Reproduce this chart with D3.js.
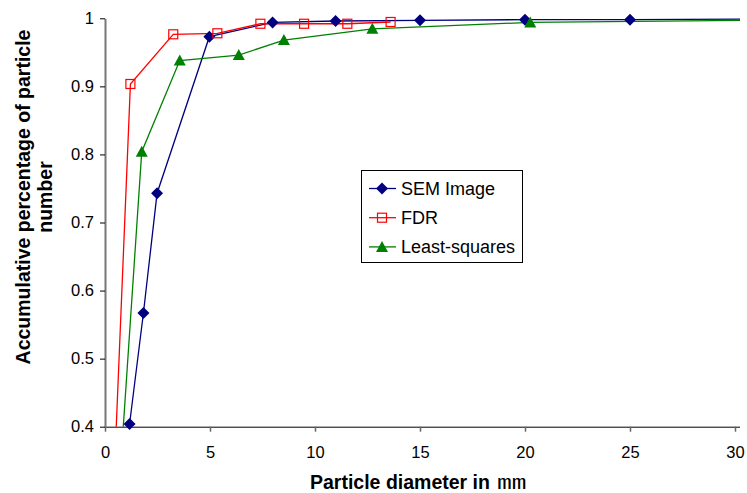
<!DOCTYPE html>
<html>
<head>
<meta charset="utf-8">
<script src="https://cdn.jsdelivr.net/npm/d3@7"></script>
<style>
  body { margin: 0; background: #fff; }
  text { font-family: "Liberation Sans", Arial, sans-serif; }
</style>
</head>
<body>
<script>
// data
var semX = [0, 1.17, 1.83, 2.48, 4.97, 7.98, 10.98, 15, 20, 25, 40];
var semY = [0, 0.404, 0.567, 0.743, 0.973, 0.994, 0.996, 0.997, 0.998, 0.998, 1.0];
var fdrX = [0, 1.21, 3.25, 5.35, 7.40, 9.48, 11.54, 13.6];
var fdrY = [0, 0.9035, 0.9765, 0.978, 0.992, 0.992, 0.992, 0.9946];
var lsqX = [0, 1.75, 3.56, 6.37, 8.52, 12.73, 20.25, 40];
var lsqY = [0, 0.804, 0.938, 0.946, 0.968, 0.9845, 0.994, 1.0];
var seriesNames = ["SEM Image", "FDR", "Least-squares"];
var xTicks = [0, 5, 10, 15, 20, 25, 30];
var yTicks = [0.4, 0.5, 0.6, 0.7, 0.8, 0.9, 1];

const width = 747;
const height = 493;
const plotLeft = 105, plotRight = 735, plotTop = 18.3, plotBottom = 426.7;

var x = d3.scaleLinear().domain([0, 30]).range([plotLeft, plotRight]);
var y = d3.scaleLinear().domain([0.4, 1]).range([plotBottom, plotTop]);

function zip(xs, ys) { return xs.map(function(v, i) { return {x: v, y: ys[i]}; }); }

var series = [
  {name: seriesNames[0], data: zip(semX, semY), color: "#000080", marker: "diamond"},
  {name: seriesNames[1], data: zip(fdrX, fdrY), color: "#FF0000", marker: "square"},
  {name: seriesNames[2], data: zip(lsqX, lsqY), color: "#008000", marker: "triangle"}
];

const svg = d3.select("body").append("svg")
  .attr("width", width)
  .attr("height", height);

svg.append("rect").attr("width", width).attr("height", height).attr("fill", "#fff");

svg.append("clipPath").attr("id", "plotclip")
  .append("rect")
    .attr("x", plotLeft).attr("y", 0)
    .attr("width", 740 - plotLeft).attr("height", plotBottom);

// axes
var xAxis = svg.append("g")
  .attr("transform", "translate(0," + plotBottom + ")")
  .call(d3.axisBottom(x).tickValues(xTicks).tickSize(5).tickPadding(15).tickSizeOuter(0));
xAxis.select(".domain").attr("stroke", "#000").attr("d", "M" + plotLeft + ",0.5H740");
xAxis.selectAll(".tick line").attr("stroke", "#666").attr("stroke-width", 1.5);
xAxis.selectAll("text").attr("font-size", 16.5).attr("fill", "#000")
  .style("font-family", "Liberation Sans, Arial, sans-serif");

var yAxis = svg.append("g")
  .attr("transform", "translate(" + plotLeft + ",0)")
  .call(d3.axisLeft(y).tickValues(yTicks).tickSize(5).tickPadding(6).tickSizeOuter(0)
    .tickFormat(function(d) { return d === 1 ? "1" : d3.format(".1f")(d); }));
yAxis.select(".domain").attr("stroke", "#777").attr("stroke-width", 2);
yAxis.selectAll(".tick line").attr("stroke", "#000");
yAxis.selectAll("text").attr("font-size", 16.5).attr("fill", "#000")
  .style("font-family", "Liberation Sans, Arial, sans-serif");

// lines
var line = d3.line().x(function(d) { return x(d.x); }).y(function(d) { return y(d.y); });

var plot = svg.append("g");
plot.append("g").attr("clip-path", "url(#plotclip)")
  .selectAll("path")
  .data(series)
  .enter().append("path")
    .attr("d", function(d) { return line(d.data); })
    .attr("fill", "none")
    .attr("stroke", function(d) { return d.color; })
    .attr("stroke-width", 1.3);

function drawMarker(g, type, color) {
  if (type === "diamond") {
    g.append("path").attr("d", "M0,-6L6,0L0,6L-6,0Z").attr("fill", color);
  } else if (type === "square") {
    g.append("rect").attr("x", -4.5).attr("y", -4.5).attr("width", 9).attr("height", 9)
      .attr("fill", "none").attr("stroke", color).attr("stroke-width", 1.2);
  } else {
    g.append("path").attr("d", "M0,-6L6,5L-6,5Z").attr("fill", color);
  }
}

series.forEach(function(s) {
  s.data.filter(function(d) { return d.y >= 0.4 && d.x <= 30; }).forEach(function(d) {
    var g = plot.append("g").attr("transform", "translate(" + x(d.x) + "," + y(d.y) + ")");
    drawMarker(g, s.marker, s.color);
  });
});

// legend
var legend = svg.append("g").attr("transform", "translate(361,170)");
legend.append("rect")
  .attr("x", 0.5).attr("y", 0.5).attr("width", 161).attr("height", 92)
  .attr("fill", "#fff").attr("stroke", "#000");
series.forEach(function(s, i) {
  var cy = 18.5 + i * 29.2;
  var row = legend.append("g").attr("transform", "translate(0," + cy + ")");
  row.append("line").attr("x1", 8).attr("x2", 35).attr("y1", 0).attr("y2", 0)
    .attr("stroke", s.color).attr("stroke-width", 1.3);
  var m = row.append("g").attr("transform", "translate(21,0)");
  drawMarker(m, s.marker, s.color);
  row.append("text").attr("x", 40).attr("y", 6.3).attr("font-size", 18).text(s.name);
});

// axis titles
svg.append("text")
  .attr("x", 310).attr("y", 489)
  .attr("font-size", 19.5).attr("font-weight", "bold")
  .text("Particle diameter in");
// unit glyph, widened like the reference
svg.append("text")
  .attr("transform", "translate(497,489) scale(1.5,1)")
  .style("font-family", "Noto Sans CJK SC, sans-serif")
  .attr("font-size", 19.5)
  .text("㎜");

var yTitle = svg.append("text")
  .attr("transform", "translate(0,197) rotate(-90)")
  .attr("text-anchor", "middle")
  .attr("font-size", 19.5).attr("font-weight", "bold");
yTitle.append("tspan").attr("x", 0).attr("y", 30).text("Accumulative percentage of particle");
yTitle.append("tspan").attr("x", 0).attr("y", 52).text("number");
</script>
</body>
</html>
